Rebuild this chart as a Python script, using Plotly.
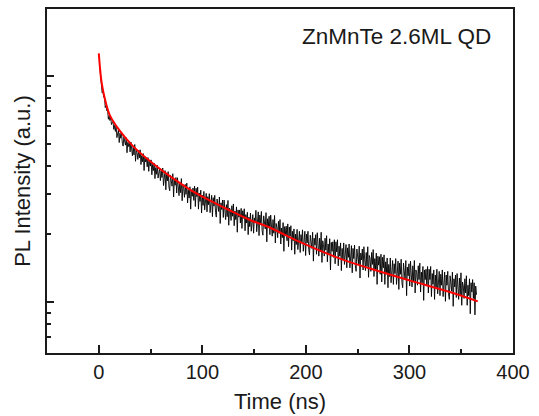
import numpy as np
import plotly.graph_objects as go

# measured PL decay, sampled every 0.75 ns starting at 1 ns
t_start = 1.0
t_step = 0.75
pl_counts = [
    1096, 965, 947, 844, 862, 805, 804, 725, 741, 702, 711, 644, 666, 636, 657, 610, 625, 627, 581, 605,
    569, 600, 534, 570, 577, 508, 559, 531, 561, 505, 490, 537, 520, 495, 534, 458, 509, 488, 512, 462,
    511, 470, 444, 489, 448, 498, 420, 470, 458, 428, 470, 435, 472, 406, 445, 418, 454, 382, 440, 417,
    435, 397, 436, 379, 425, 400, 426, 366, 407, 382, 411, 352, 394, 368, 403, 354, 382, 392, 345, 381,
    356, 392, 328, 370, 382, 314, 371, 344, 378, 323, 311, 364, 350, 326, 370, 292, 349, 329, 356, 304,
    355, 319, 296, 340, 305, 352, 281, 327, 319, 291, 332, 300, 336, 275, 313, 289, 324, 258, 314, 294,
    320, 282, 326, 265, 319, 293, 323, 258, 304, 279, 313, 248, 297, 268, 309, 256, 289, 303, 251, 293,
    270, 302, 249, 285, 297, 239, 290, 266, 297, 249, 238, 286, 272, 252, 292, 223, 275, 257, 283, 237,
    283, 251, 232, 270, 239, 282, 219, 261, 253, 230, 267, 240, 272, 218, 253, 232, 264, 204, 256, 238,
    256, 224, 260, 212, 254, 235, 259, 207, 244, 224, 250, 199, 238, 216, 248, 206, 233, 244, 202, 236,
    226, 255, 205, 239, 251, 197, 243, 222, 252, 207, 198, 241, 230, 211, 249, 185, 234, 217, 240, 199,
    243, 214, 196, 232, 202, 242, 183, 223, 215, 193, 228, 202, 232, 181, 213, 193, 225, 168, 216, 199,
    217, 187, 222, 176, 215, 196, 218, 170, 206, 187, 211, 163, 200, 180, 210, 171, 196, 206, 166, 199,
    185, 209, 168, 196, 206, 161, 200, 183, 206, 171, 162, 198, 189, 173, 204, 152, 192, 179, 199, 163,
    203, 176, 160, 192, 167, 204, 150, 187, 180, 160, 192, 170, 197, 151, 181, 163, 191, 139, 184, 168,
    185, 158, 189, 148, 185, 167, 189, 145, 177, 160, 183, 138, 173, 155, 183, 147, 168, 180, 142, 174,
    158, 181, 142, 168, 178, 135, 173, 156, 179, 145, 137, 172, 162, 148, 177, 128, 165, 154, 172, 139,
    176, 152, 138, 166, 144, 176, 129, 161, 156, 137, 166, 147, 171, 130, 156, 140, 165, 120, 160, 146,
    159, 133, 163, 123, 158, 142, 162, 120, 151, 135, 157, 116, 147, 130, 157, 122, 144, 153, 120, 148,
    134, 156, 120, 145, 152, 114, 149, 133, 155, 122, 116, 149, 139, 126, 153, 107, 143, 131, 148, 118,
    152, 131, 117, 145, 124, 153, 110, 139, 135, 119, 145, 126, 149, 111, 136, 122, 144, 102, 139, 126,
    140, 118, 144, 110, 140, 126, 144, 106, 134, 120, 139, 103, 132, 115, 140, 109, 128, 137, 107, 133,
    119, 139, 106, 128, 136, 101, 132, 119, 137, 109, 103, 131, 124, 112, 136, 96, 127, 117, 132, 105,
    134, 115, 103, 128, 108, 135, 97, 123, 118, 104, 127, 110, 131, 97, 119, 107, 127, 89, 122, 111,
    126, 104, 122, 88, 118, 108,
]
pl_time = t_start + t_step * np.arange(len(pl_counts))

# fitted curve
fit_time = [0, 1, 2.6, 5.8, 10.6, 20, 33, 49, 69, 88, 107, 127, 146, 165,
            194, 233, 262, 300, 339, 366]
fit_counts = [1259, 1110, 944, 796, 672, 575, 490, 422, 360, 315, 282, 254,
              231, 214, 185, 156, 141, 125, 111, 101]

x_major = [0, 100, 200, 300, 400]
y_major = [100, 1000]
y_minor = [70, 80, 90, 200, 300, 400, 500, 600, 700, 800, 900]

font_family = "Liberation Sans, Arial, sans-serif"
ink = "#1a1a1a"

fig = go.Figure()
fig.add_trace(go.Scatter(x=pl_time, y=pl_counts, mode="lines",
                         line=dict(color="black", width=0.9), showlegend=False))
fig.add_trace(go.Scatter(x=fit_time, y=fit_counts, mode="lines",
                         line=dict(color="#ff0000", width=2, shape="spline"),
                         showlegend=False))

fig.add_annotation(text="ZnMnTe 2.6ML QD", xref="paper", yref="paper",
                   x=0.751, y=0.9215, xanchor="center", yanchor="middle",
                   showarrow=False,
                   font=dict(size=22.5, color=ink, family=font_family))

fig.update_xaxes(range=[-50, 400], showgrid=False, zeroline=False,
                 automargin=False,
                 showline=True, linecolor=ink, linewidth=2, mirror=True,
                 ticks="inside", ticklen=8, tickwidth=1.5, tickcolor=ink,
                 tickvals=x_major,
                 minor=dict(ticks="inside", ticklen=4, tickwidth=1.5,
                            tickcolor=ink, dtick=50, tick0=0, showgrid=False),
                 tickfont=dict(size=20, color=ink, family=font_family),
                 title=dict(text="Time (ns)", standoff=12,
                            font=dict(size=22, color=ink, family=font_family)))
fig.update_yaxes(type="log", range=[1.776, 3.296], showgrid=False,
                 zeroline=False, automargin=False,
                 showline=True, linecolor=ink, linewidth=2,
                 mirror=True, ticks="inside", ticklen=7, tickwidth=1.5,
                 tickcolor=ink, tickvals=y_major, showticklabels=False,
                 minor=dict(ticks="inside", ticklen=4, tickwidth=1.5,
                            tickcolor=ink, tickvals=y_minor, showgrid=False),
                 title=dict(text="PL Intensity (a.u.)", standoff=8,
                            font=dict(size=22, color=ink, family=font_family)))

fig.update_layout(width=539, height=416,
                  margin=dict(l=47, r=26, t=9, b=63),
                  plot_bgcolor="white", paper_bgcolor="white")

fig.write_html("out.html", config={"displayModeBar": False},
               post_script="document.body.style.margin = '0';")
